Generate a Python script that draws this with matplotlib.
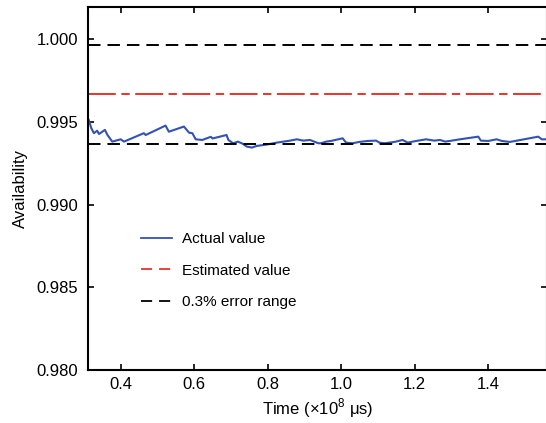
import numpy as np
import matplotlib
matplotlib.use("Agg")
import matplotlib.pyplot as plt
from matplotlib.lines import Line2D

plt.rcParams["font.family"] = ["Liberation Sans", "DejaVu Sans"]
plt.rcParams["mathtext.fontset"] = "custom"
plt.rcParams["mathtext.rm"] = "Liberation Sans"
plt.rcParams["lines.scale_dashes"] = False

# Actual availability (sawtooth trace)
time_vals = [0.313, 0.320, 0.327, 0.336, 0.341, 0.357, 0.364, 0.377, 0.400, 0.409,
             0.463, 0.468, 0.522, 0.531, 0.572, 0.586, 0.595, 0.604, 0.622, 0.645,
             0.650, 0.688, 0.693, 0.706, 0.719, 0.733, 0.743, 0.757, 0.770, 0.797,
             0.825, 0.861, 0.879, 0.897, 0.915, 0.938, 0.945, 0.959, 0.972, 1.004,
             1.013, 1.031, 1.049, 1.072, 1.095, 1.104, 1.117, 1.145, 1.167, 1.181,
             1.204, 1.231, 1.253, 1.269, 1.283, 1.301, 1.323, 1.373, 1.380, 1.400,
             1.423, 1.437, 1.459, 1.536, 1.546, 1.557]
actual_vals = [0.99512, 0.99462, 0.99432, 0.99447, 0.99427, 0.99452, 0.99421, 0.99381, 0.99395, 0.99381,
               0.99432, 0.99421, 0.99478, 0.99441, 0.99472, 0.99435, 0.99432, 0.99395, 0.99391, 0.99410,
               0.99400, 0.99421, 0.99391, 0.99371, 0.99381, 0.99367, 0.99351, 0.99345, 0.99355, 0.99363,
               0.99375, 0.99387, 0.99395, 0.99387, 0.99391, 0.99371, 0.99371, 0.99381, 0.99385, 0.99401,
               0.99375, 0.99371, 0.99379, 0.99385, 0.99387, 0.99375, 0.99371, 0.99379, 0.99391, 0.99375,
               0.99385, 0.99395, 0.99387, 0.99391, 0.99381, 0.99387, 0.99395, 0.99411, 0.99387, 0.99385,
               0.99395, 0.99385, 0.99379, 0.99411, 0.99395, 0.99395]

estimated = 0.99667
err_upper = 0.99966
err_lower = 0.99368

x_range = [0.311, 1.560]
y_range = [0.980, 1.00195]
x_ticks = [0.4, 0.6, 0.8, 1.0, 1.2, 1.4]
y_ticks = [0.980, 0.985, 0.990, 0.995, 1.000]

fig = plt.figure(figsize=(5.46, 4.23), dpi=100)
ax = fig.add_axes([88 / 546, 1 - 370 / 423, 459 / 546, 363 / 423])

blue = "#3352b5"
red = "#e8332b"

ax.plot(time_vals, actual_vals, color=blue, linewidth=1.5)
ax.plot(x_range, [estimated, estimated], color=red, linewidth=1.4, dashes=(20, 4, 6, 4))
ax.plot(x_range, [err_upper, err_upper], color="black", linewidth=1.4, dashes=(9, 5))
ax.plot(x_range, [err_lower, err_lower], color="black", linewidth=1.4, dashes=(9, 5))

ax.set_xlim(x_range)
ax.set_ylim(y_range)
ax.set_xticks(x_ticks)
ax.set_xticklabels([f"{t:.1f}" for t in x_ticks])
ax.set_yticks(y_ticks)
ax.set_yticklabels([f"{t:.3f}" for t in y_ticks])
ax.tick_params(direction="in", top=True, right=True, length=4, width=1.2,
               labelsize=12)
ax.tick_params(axis="y", pad=7)
ax.tick_params(axis="x", pad=5)
for sp in ax.spines.values():
    sp.set_linewidth(1.5)

ax.set_xlabel("Time (×10$^{8}$ μs)", fontsize=12, labelpad=3)
ax.set_ylabel("Availability", fontsize=12, labelpad=6)

handles = [
    Line2D([], [], color=blue, linewidth=1.3),
    Line2D([], [], color=red, linewidth=1.3, dashes=(8, 5)),
    Line2D([], [], color="black", linewidth=1.3, dashes=(8, 5)),
]
ax.legend(handles, ["Actual value", "Estimated value", "0.3% error range"],
          loc="upper left", bbox_to_anchor=(141 / 546, 1 - 232 / 423),
          bbox_transform=fig.transFigure, frameon=False, fontsize=11,
          handlelength=2.0, handletextpad=0.7, labelspacing=1.15,
          borderpad=0, borderaxespad=0)

fig.savefig("out.png", dpi=100)
